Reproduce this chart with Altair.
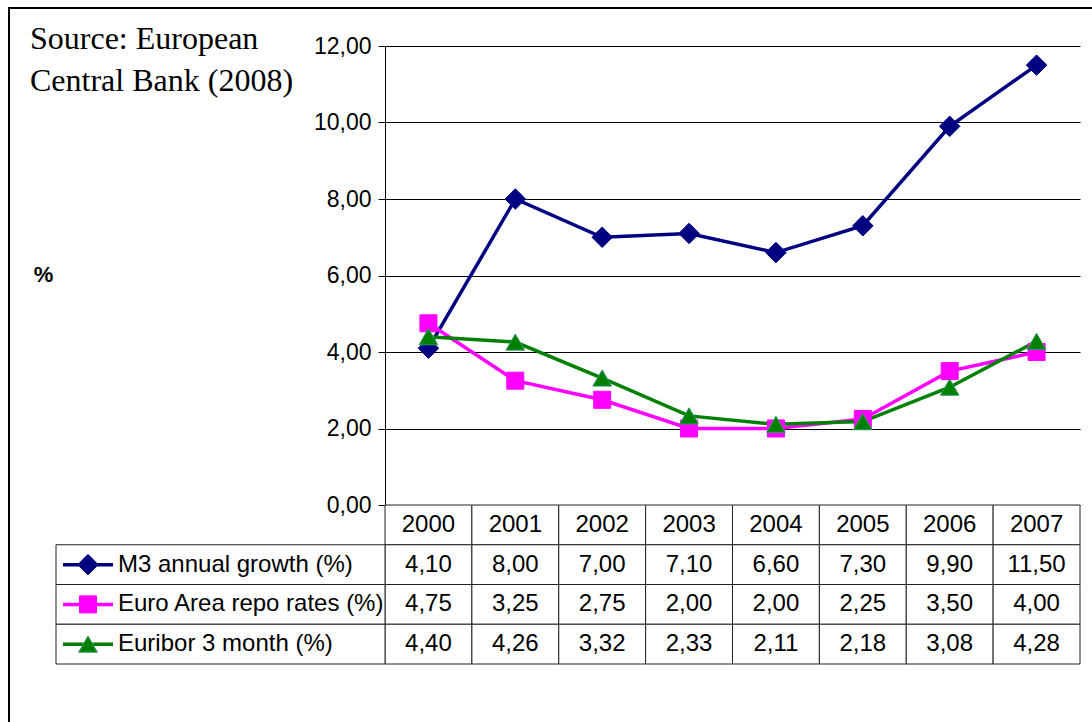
import altair as alt
import pandas as pd

# ---------------- data ----------------
years = ["2000", "2001", "2002", "2003", "2004", "2005", "2006", "2007"]
m3_growth = [4.10, 8.00, 7.00, 7.10, 6.60, 7.30, 9.90, 11.50]
repo_rates = [4.75, 3.25, 2.75, 2.00, 2.00, 2.25, 3.50, 4.00]
euribor_3m = [4.40, 4.26, 3.32, 2.33, 2.11, 2.18, 3.08, 4.28]

series_names = ["M3 annual growth (%)", "Euro Area repo rates (%)", "Euribor 3 month (%)"]
series_values = [m3_growth, repo_rates, euribor_3m]
series_colors = ["#000080", "#FF00FF", "#008000"]
series_shapes = ["diamond", "square", "triangle-up"]
series_sizes = [420, 290, 350]
y_ticks = [0, 2, 4, 6, 8, 10, 12]
source_lines = ["Source: European", "Central Bank (2008)"]
row_keys = ["header"] + series_names

# ---------------- layout ----------------
W, H, TABLE_H = 695, 459, 159
SANS = "Liberation Sans"
SERIF = "Liberation Serif"


def fmt(v):
    return f"{v:.2f}".replace(".", ",")


rows = []
for name, vals in zip(series_names, series_values):
    for yr, v in zip(years, vals):
        rows.append({"series": name, "year": yr, "value": v})
df = pd.DataFrame(rows)

trows = []
for yr in years:
    trows.append({"year": yr, "row": "header", "text": yr})
for name, vals in zip(series_names, series_values):
    for yr, v in zip(years, vals):
        trows.append({"year": yr, "row": name, "text": fmt(v)})
tdf = pd.DataFrame(trows)

ldf = pd.DataFrame({"row": series_names})
one = pd.DataFrame({"k": [0]})

x_enc = alt.X("year:N", scale=alt.Scale(type="band", domain=years, paddingInner=0, paddingOuter=0), axis=None)
y_scale = alt.Scale(domain=[0, 12], nice=False, zero=True)
color_scale = alt.Scale(domain=series_names, range=series_colors)
row_scale = alt.Scale(type="band", domain=row_keys, range=[H, H + TABLE_H], paddingInner=0, paddingOuter=0)
row_y = alt.Y("row:N", scale=row_scale, axis=None)

lines = alt.Chart(df).mark_line(strokeWidth=3.5).encode(
    x=x_enc,
    y=alt.Y(
        "value:Q",
        scale=y_scale,
        axis=alt.Axis(
            values=y_ticks,
            grid=True,
            gridColor="#000000",
            gridOpacity=1,
            gridWidth=1,
            domainColor="#000000",
            tickColor="#000000",
            tickSize=7,
            labelFont=SANS,
            labelFontSize=23,
            labelColor="#000000",
            labelPadding=7,
            labelExpr="replace(format(datum.value, '.2f'), '.', ',')",
            title="%",
            titleAngle=0,
            titleFont=SANS,
            titleFontSize=22,
            titleFontWeight="bold",
            titleColor="#000000",
            titleAlign="center",
            titleBaseline="middle",
            titleX=-342,
            titleY=228,
        ),
    ),
    color=alt.Color("series:N", scale=color_scale, legend=None),
)

layers = [lines]
for name, shp, sz, col in zip(series_names, series_shapes, series_sizes, series_colors):
    stroke = "#339966" if shp == "triangle-up" else col
    pts = alt.Chart(df[df["series"] == name]).mark_point(
        shape=shp, size=sz, filled=True, opacity=1, color=col, stroke=stroke, strokeWidth=1
    ).encode(x=x_enc, y=alt.Y("value:Q", scale=y_scale, axis=None))
    layers.append(pts)

# data table
cells = alt.Chart(tdf).mark_rect(fill="white", stroke="#222222", strokeWidth=1).encode(x=x_enc, y=row_y)
cell_text = alt.Chart(tdf).mark_text(font=SANS, fontSize=24, color="#000000").encode(
    x=x_enc, y=row_y, text="text:N"
)
legend_cells = alt.Chart(ldf).mark_rect(fill="white", stroke="#222222", strokeWidth=1).encode(
    x=alt.value(-329), x2=alt.value(0), y=row_y
)
legend_lines = alt.Chart(ldf).mark_rule(strokeWidth=3.5).encode(
    x=alt.value(-322), x2=alt.value(-272), y=row_y,
    color=alt.Color("row:N", scale=color_scale, legend=None),
)
layers += [cells, cell_text, legend_cells, legend_lines]
for name, shp, sz, col in zip(series_names, series_shapes, series_sizes, series_colors):
    stroke = "#339966" if shp == "triangle-up" else col
    lp = alt.Chart(ldf[ldf["row"] == name]).mark_point(
        shape=shp, size=sz, filled=True, opacity=1, color=col, stroke=stroke, strokeWidth=1
    ).encode(x=alt.value(-297), y=row_y)
    layers.append(lp)
legend_text = alt.Chart(ldf).mark_text(font=SANS, fontSize=24, color="#000000", align="left").encode(
    x=alt.value(-267), y=row_y, text="row:N"
)
layers.append(legend_text)

# source note and frame
source = alt.Chart(one).mark_text(
    font=SERIF, fontSize=32, color="#000000", align="left", baseline="alphabetic", lineHeight=42
).encode(x=alt.value(-355), y=alt.value(3), text=alt.value(source_lines))
frame_left = alt.Chart(one).mark_rule(strokeWidth=2, color="#000000").encode(
    x=alt.value(-376), y=alt.value(-38), y2=alt.value(700)
)
frame_top = alt.Chart(one).mark_rule(strokeWidth=2, color="#000000").encode(
    x=alt.value(-377), x2=alt.value(720), y=alt.value(-38)
)
layers += [source, frame_left, frame_top]

chart = (
    alt.layer(*layers)
    .resolve_scale(y="independent")
    .properties(
        width=W,
        height=H,
        autosize=alt.AutoSizeParams(type="none"),
        padding={"left": 385, "top": 46, "right": 12, "bottom": 217},
        background="white",
    )
    .configure_view(stroke=None)
)

chart.save("out.html", embed_options={"renderer": "svg", "actions": False})
